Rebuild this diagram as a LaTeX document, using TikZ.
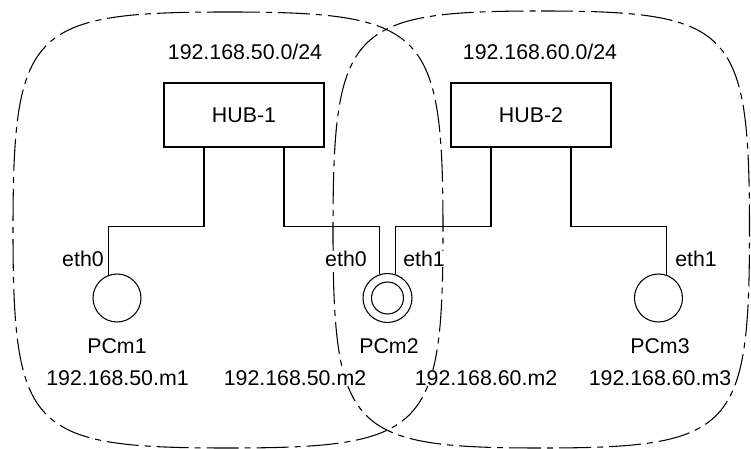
\documentclass[tikz,border=0pt]{standalone}
\usepackage{fontspec}
\setmainfont{Liberation Sans}
\usetikzlibrary{positioning}

\begin{document}
\begin{tikzpicture}[
    x=0.75pt, y=-0.75pt,
    font=\fontsize{16}{19}\selectfont,
    hub/.style={rectangle, draw=black, minimum width=120pt, minimum height=48pt, inner sep=0pt, line width=0.8pt},
    pc/.style={circle, draw=black, minimum size=36pt, inner sep=0pt, line width=0.8pt},
    pcdual/.style={pc, minimum size=36.75pt, path picture={\draw[line width=0.8pt] (path picture bounding box.center) circle (12pt);}},
    lan/.style={draw=black, line width=0.8pt, dash pattern=on 24pt off 4.5pt on 4.5pt off 4.5pt},
    link/.style={draw=black, line width=0.8pt},
    lbl/.style={inner sep=0pt, fill=white}
]
\useasboundingbox (0,0) rectangle (751,449);

% LAN areas
\draw[lan] (228,12) .. controls (426,12) and (443,29) .. (443,230) .. controls (443,431) and (426,448) .. (228,448) .. controls (30,448) and (13,431) .. (13,230) .. controls (13,29) and (30,12) .. (228,12) -- cycle;
\draw[lan] (541,11) .. controls (733,11) and (749.5,28) .. (749.5,230) .. controls (749.5,431) and (733,448) .. (541,448) .. controls (349.5,448) and (333,431) .. (333,230) .. controls (333,28) and (349.5,11) .. (541,11) -- cycle;

% Row 1: subnets and hubs
\node[lbl, anchor=base] (net1) at (245,60) {192.168.50.0/24};
\node[lbl, anchor=base] (net2) at (540,60) {192.168.60.0/24};
\node[hub] (hub1) at (244,115) {HUB-1};
\node[hub] (hub2) at (531,115) {HUB-2};

% Row 2: hosts
\node[pc] (pc1) at (117,298) {};
\node[pcdual] (pc2) at (387.5,298) {};
\node[pc] (pc3) at (658.5,298) {};

\node[lbl, anchor=east] (if1) at (104,259) {eth0};
\node[lbl, anchor=east] (if2a) at (367,259) {eth0};
\node[lbl, anchor=west] (if2b) at (403,259) {eth1};
\node[lbl, anchor=west] (if3) at (675,259) {eth1};

% Row 3: host names and addresses
\node[lbl] (name1) at (117,346) {PCm1};
\node[lbl] (name2) at (389,346) {PCm2};
\node[lbl] (name3) at (660,346) {PCm3};
\node[lbl] (addr1) at (117.5,378) {192.168.50.m1};
\node[lbl] (addr2a) at (295,378) {192.168.50.m2};
\node[lbl] (addr2b) at (486,378) {192.168.60.m2};
\node[lbl] (addr3) at (660,378) {192.168.60.m3};

% === Links ===
\draw[link] ([xshift=-30pt]hub1.south) -- ++(0,79) -| (pc1.110);
\draw[link] ([xshift=30pt]hub1.south) -- ++(0,79) -| (pc2.108);
\draw[link] ([xshift=-30pt]hub2.south) -- ++(0,79) -| (pc2.72);
\draw[link] ([xshift=30pt]hub2.south) -- ++(0,79) -| (pc3.72);

\end{tikzpicture}
\end{document}
